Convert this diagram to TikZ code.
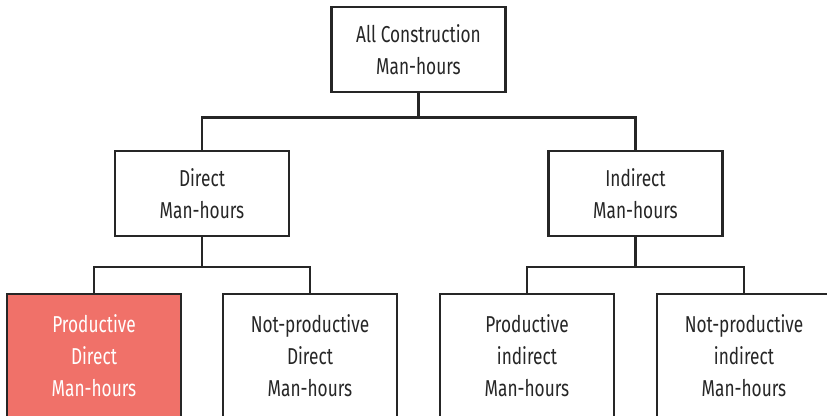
\documentclass[tikz,border=0pt]{standalone}
\usepackage{fontspec}
\setmainfont[FakeStretch=0.75]{Fira Sans}
\usepackage{tikz}
\usepackage{xcolor}
\definecolor{ColLine}{RGB}{38,38,38}
\definecolor{ColProd}{RGB}{240,113,105}
\tikzstyle{BoxHours}=[rectangle,draw=ColLine,fill=white,text=ColLine,line width=2.5pt,
align=center,inner sep=0pt,minimum width=174pt,minimum height=85pt,
font=\fontsize{23}{32}\selectfont]
\tikzstyle{BoxLeaf}=[BoxHours,minimum height=124pt]
\tikzstyle{BoxProd}=[BoxLeaf,fill=ColProd,text=white]
\tikzstyle{LinkTree}=[ColLine,line width=2.5pt]

\begin{document}
\begin{tikzpicture}[x=1pt,y=-1pt]
        \useasboundingbox(0,0)rectangle(827,415);
        \clip(0,0)rectangle(827,415);
        % levels of the tree
        \node[BoxHours](all)at(418.5,49.5){All Construction\\Man-hours};
        \node[BoxHours](dir)at(202,193.5){Direct\\Man-hours};
        \node[BoxHours](ind)at(635.5,193.5){Indirect\\Man-hours};
        \node[BoxProd](pdir)at(94,356){Productive\\Direct\\Man-hours};
        \node[BoxLeaf](npdir)at(310,356){Not-productive\\Direct\\Man-hours};
        \node[BoxLeaf](pind)at(527,356){Productive\\indirect\\Man-hours};
        \node[BoxLeaf](npind)at(744,356){Not-productive\\indirect\\Man-hours};
        % connectors
        \draw[LinkTree](all.south)--++(0,24)-|(dir.north);
        \draw[LinkTree](all.south)--++(0,24)-|(ind.north);
        \draw[LinkTree](dir.south)--++(0,29.5)-|(pdir.north);
        \draw[LinkTree](dir.south)--++(0,29.5)-|(npdir.north);
        \draw[LinkTree](ind.south)--++(0,29.5)-|(pind.north);
        \draw[LinkTree](ind.south)--++(0,29.5)-|(npind.north);
    \end{tikzpicture}
\end{document}
